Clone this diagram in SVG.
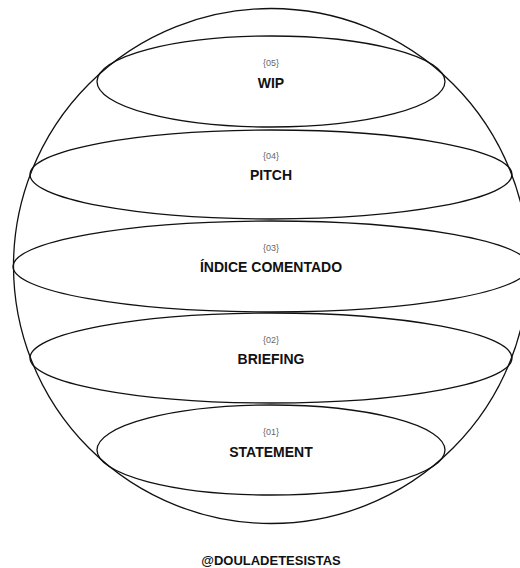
<svg xmlns="http://www.w3.org/2000/svg" width="520" height="568" viewBox="0 0 520 568">
<style>
.sh{fill:none;stroke:#111;stroke-width:1.3}
.n{font-family:"Liberation Sans",Arial,sans-serif;font-size:9px;fill:#666;text-anchor:middle}
.t{font-family:"Liberation Sans",Arial,sans-serif;font-size:14px;font-weight:bold;fill:#111;text-anchor:middle}
</style>
<rect width="520" height="568" fill="#fff"/>
<g id="sphere"><circle class="sh" cx="271" cy="266" r="257.5"/></g>
<g id="n05"><ellipse class="sh" cx="271" cy="81.5" rx="174" ry="45.5"/><text class="n" x="271" y="66">{05}</text><text class="t" x="271" y="88">WIP</text></g>
<g id="n04"><ellipse class="sh" cx="271" cy="174.5" rx="241" ry="44.5"/><text class="n" x="271" y="159">{04}</text><text class="t" x="271" y="180">PITCH</text></g>
<g id="n03"><ellipse class="sh" cx="271" cy="266.5" rx="258" ry="45.5"/><text class="n" x="271" y="251">{03}</text><text class="t" x="271" y="272">ÍNDICE COMENTADO</text></g>
<g id="n02"><ellipse class="sh" cx="271" cy="358" rx="241" ry="45"/><text class="n" x="271" y="343">{02}</text><text class="t" x="271" y="364">BRIEFING</text></g>
<g id="n01"><ellipse class="sh" cx="271" cy="450" rx="174" ry="45"/><text class="n" x="271" y="435">{01}</text><text class="t" x="271" y="457">STATEMENT</text></g>
<g id="credit"><text class="t" x="271" y="565" style="font-size:13px">@DOULADETESISTAS</text></g>
</svg>
